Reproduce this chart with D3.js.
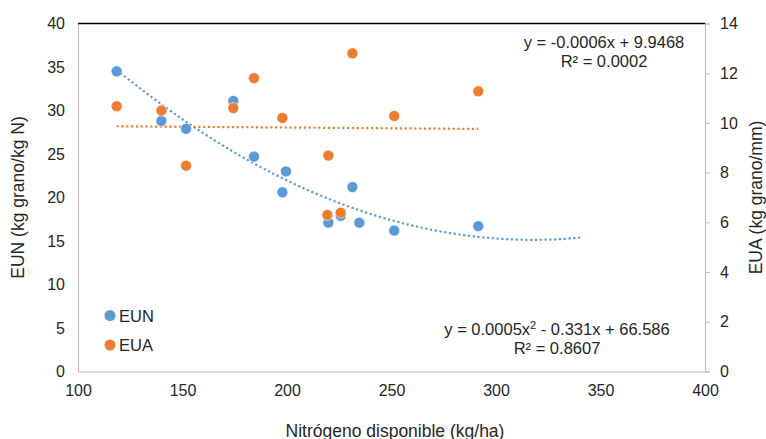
<!DOCTYPE html>
<html>
<head>
<meta charset="utf-8">
<script src="https://cdn.jsdelivr.net/npm/d3@7"></script>
<style>
  body { margin: 0; background: #fff; }
  text { font-family: "Liberation Sans", Arial, sans-serif; fill: #262626; }
</style>
</head>
<body>
<div id="chart"></div>
<script>
// EUN (left axis) points
var eunX = [118.5, 139.9, 151.7, 174.3, 184.2, 199.5, 197.8, 231.3, 219.8, 225.7, 234.6, 251.3, 291.5];
var eunY = [34.5, 28.8, 27.9, 31.1, 24.7, 23.0, 20.6, 21.2, 17.1, 17.9, 17.1, 16.2, 16.7];
// EUA (right axis) points
var euaX = [118.5, 139.9, 151.7, 174.3, 184.2, 197.8, 219.8, 231.3, 251.3, 291.5, 219.3, 225.7];
var euaY = [10.67, 10.5, 8.28, 10.6, 11.8, 10.2, 8.69, 12.8, 10.28, 11.27, 6.3, 6.39];

var xTicks = [100, 150, 200, 250, 300, 350, 400];
var leftTicks = [0, 5, 10, 15, 20, 25, 30, 35, 40];
var rightTicks = [0, 2, 4, 6, 8, 10, 12, 14];

var W = 766, H = 439;
var margin = {top: 23.5, right: 61, bottom: 67.5, left: 78};
var w = W - margin.left - margin.right,
    h = H - margin.top - margin.bottom;

var blue = "#5B9BD5", orange = "#ED7D31";

var svg = d3.select("#chart").append("svg")
  .attr("width", W).attr("height", H)
  .append("g")
  .attr("transform", `translate(${margin.left},${margin.top})`);

var x = d3.scaleLinear().domain([100, 400]).range([0, w]);
var yL = d3.scaleLinear().domain([0, 40]).range([h, 0]);
var yR = d3.scaleLinear().domain([0, 14]).range([h, 0]);

// axes
var gx = svg.append("g").attr("transform", "translate(0," + h + ")")
  .call(d3.axisBottom(x).tickValues(xTicks).tickSize(0).tickPadding(13));
var gl = svg.append("g")
  .call(d3.axisLeft(yL).tickValues(leftTicks).tickSize(0).tickPadding(13));
var gr = svg.append("g").attr("transform", "translate(" + w + ",0)")
  .call(d3.axisRight(yR).tickValues(rightTicks).tickSize(5).tickPadding(10));
[gx, gl, gr].forEach(function (g) {
  g.select(".domain").attr("stroke", "#bfbfbf").attr("stroke-width", 1.2);
  g.selectAll(".tick line").attr("stroke", "#bfbfbf");
  g.selectAll(".tick text").style("font-size", "16px").attr("fill", "#262626")
    .style("font-family", "'Liberation Sans', Arial, sans-serif");
});
gx.selectAll(".tick text").attr("dy", "0.71em");

// top border
svg.append("line").attr("x1", 0).attr("x2", w).attr("y1", 0).attr("y2", 0)
  .attr("stroke", "#000").attr("stroke-width", 1.5);

// regression helpers
function linFit(xs, ys) {
  var mx = d3.mean(xs), my = d3.mean(ys);
  var sxy = d3.sum(xs, (v, i) => (v - mx) * (ys[i] - my));
  var sxx = d3.sum(xs, v => (v - mx) * (v - mx));
  var b = sxy / sxx;
  return {b: b, a: my - b * mx};
}
function quadFit(xs, ys) {
  var s = [0, 0, 0, 0, 0], t = [0, 0, 0];
  xs.forEach(function (v, i) {
    for (var k = 0; k < 5; k++) s[k] += Math.pow(v, k);
    for (var k = 0; k < 3; k++) t[k] += ys[i] * Math.pow(v, k);
  });
  var M = [[s[0], s[1], s[2], t[0]], [s[1], s[2], s[3], t[1]], [s[2], s[3], s[4], t[2]]];
  for (var i = 0; i < 3; i++) {
    for (var j = i + 1; j < 3; j++) {
      var f = M[j][i] / M[i][i];
      for (var k = i; k < 4; k++) M[j][k] -= f * M[i][k];
    }
  }
  var c = [0, 0, 0];
  for (var i = 2; i >= 0; i--) {
    var v = M[i][3];
    for (var k = i + 1; k < 3; k++) v -= M[i][k] * c[k];
    c[i] = v / M[i][i];
  }
  return c;
}

// trendlines
var qc = quadFit(eunX, eunY);
var qx = d3.range(d3.min(eunX), 342.1, 1);
svg.append("path")
  .datum(qx)
  .attr("fill", "none")
  .attr("stroke", blue)
  .attr("stroke-width", 2.2)
  .attr("stroke-dasharray", "2.2,2.6")
  .attr("d", d3.line().x(d => x(d)).y(d => yL(qc[0] + qc[1] * d + qc[2] * d * d)));

var lc = linFit(euaX, euaY);
var lx = [d3.min(euaX), d3.max(euaX)];
svg.append("path")
  .datum(lx)
  .attr("fill", "none")
  .attr("stroke", orange)
  .attr("stroke-width", 2.2)
  .attr("stroke-dasharray", "2.2,2.6")
  .attr("d", d3.line().x(d => x(d)).y(d => yR(lc.a + lc.b * d)));

// points
svg.selectAll(".eun")
  .data(eunX)
  .enter().append("circle")
  .attr("class", "eun")
  .attr("cx", d => x(d))
  .attr("cy", (d, i) => yL(eunY[i]))
  .attr("r", 5.5)
  .attr("fill", blue)
  .attr("stroke", "#fff").attr("stroke-width", 0.6);

svg.selectAll(".eua")
  .data(euaX)
  .enter().append("circle")
  .attr("class", "eua")
  .attr("cx", d => x(d))
  .attr("cy", (d, i) => yR(euaY[i]))
  .attr("r", 5.5)
  .attr("fill", orange)
  .attr("stroke", "#fff").attr("stroke-width", 0.6);

// equations
var eq = svg.append("g").style("font-size", "16.5px").attr("text-anchor", "middle");
eq.append("text").attr("x", 604 - margin.left).attr("y", 48 - margin.top).text("y = -0.0006x + 9.9468");
eq.append("text").attr("x", 604 - margin.left).attr("y", 67 - margin.top).text("R² = 0.0002");
var t1 = eq.append("text").attr("x", 557 - margin.left).attr("y", 335 - margin.top);
t1.append("tspan").text("y = 0.0005x");
t1.append("tspan").attr("dy", -6).style("font-size", "11px").text("2");
t1.append("tspan").attr("dy", 6).text(" - 0.331x + 66.586");
eq.append("text").attr("x", 557 - margin.left).attr("y", 354 - margin.top).text("R² = 0.8607");

// legend
var leg = svg.append("g");
[["EUN", blue, 315.5], ["EUA", orange, 345]].forEach(function (d) {
  leg.append("circle").attr("cx", 110 - margin.left).attr("cy", d[2] - margin.top)
    .attr("r", 5.5).attr("fill", d[1]);
  leg.append("text").attr("x", 119 - margin.left).attr("y", d[2] - margin.top + 6)
    .style("font-size", "16.5px").text(d[0]);
});

// axis titles
svg.append("text")
  .attr("transform", "translate(" + (18 - margin.left) + "," + (h / 2) + ") rotate(-90)")
  .attr("text-anchor", "middle").attr("dy", "0.35em")
  .style("font-size", "17.5px")
  .text("EUN (kg grano/kg N)");
svg.append("text")
  .attr("transform", "translate(" + (756 - margin.left) + "," + (h / 2) + ") rotate(-90)")
  .attr("text-anchor", "middle").attr("dy", "0.35em")
  .style("font-size", "17.5px")
  .text("EUA (kg grano/mm)");
svg.append("text")
  .attr("x", 395 - margin.left).attr("y", 437 - margin.top)
  .attr("text-anchor", "middle")
  .style("font-size", "17.5px")
  .text("Nitrógeno disponible (kg/ha)");
</script>
</body>
</html>
